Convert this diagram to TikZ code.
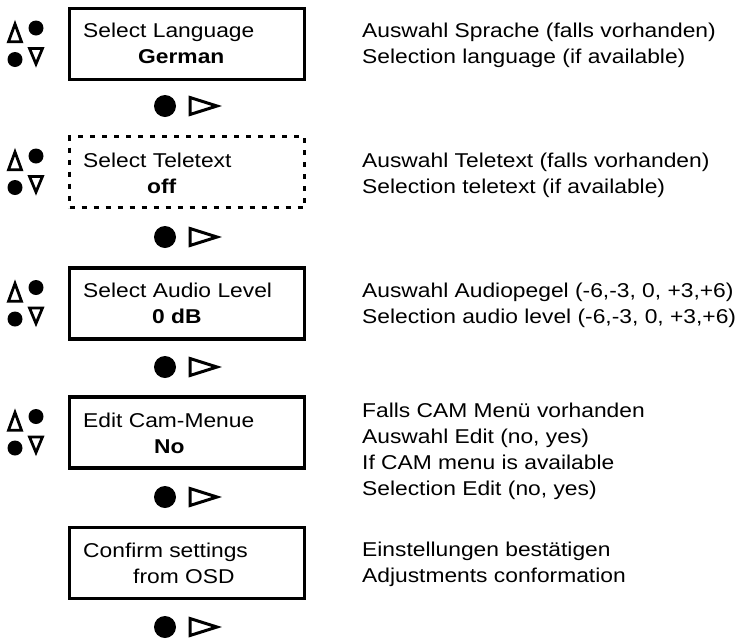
\documentclass[tikz,border=0pt]{standalone}
\usepackage{fontspec}
\setmainfont{Liberation Sans}[FakeStretch=1.14]
\begin{document}
\begin{tikzpicture}[x=1pt,y=-1pt]
\tikzset{
  menubox/.style={draw, line width=3.2pt, minimum width=235pt, minimum height=71pt, inner sep=0pt},
  dotbox/.style={menubox, dash pattern=on 5pt off 7pt},
  lbl/.style={anchor=base west, inner sep=0pt, font=\fontsize{20}{26}\selectfont},
  val/.style={lbl, font=\fontsize{20}{26}\selectfont\bfseries},
  updown/.pic={
    \fill (36,-16) circle (7.5);
    \fill (15,15.5) circle (7.5);
    \draw[line width=2.8pt, line join=miter] (15,-20) -- (21.5,-2.2) -- (8.5,-2.2) -- cycle;
    \draw[line width=2.8pt, line join=miter] (36,20) -- (29.5,4.4) -- (42.5,4.4) -- cycle;
  },
  okright/.pic={
    \fill (165,0) circle (11);
    \draw[line width=3pt, line join=miter] (190,-8.5) -- (217,0) -- (190,8.5) -- cycle;
  }
}
\useasboundingbox (0,0) rectangle (742,638);

% boxes
\node[menubox] (b1) at (187,44) {};
\node[dotbox]  (b2) at (187,172) {};
\node[menubox] (b3) at (187,303.5) {};
\node[menubox] (b4) at (187,432.5) {};
\node[menubox] (b5) at (187,563) {};

% box texts
\node[lbl] (t1a) at (83,37) {Select Language};
\node[val] (t1b) at (138,63) {German};
\node[lbl] (t2a) at (83,167) {Select Teletext};
\node[val] (t2b) at (147,193) {off};
\node[lbl] (t3a) at (83,297) {Select Audio Level};
\node[val] (t3b) at (152,323) {0 dB};
\node[lbl] (t4a) at (83,427) {Edit Cam-Menue};
\node[val] (t4b) at (154,453) {No};
\node[lbl] (t5a) at (83,557) {Confirm settings};
\node[lbl] (t5b) at (133,583) {from OSD};

% left selection symbols
\pic at (0,44) {updown};
\pic at (0,172) {updown};
\pic at (0,303.5) {updown};
\pic at (0,432.5) {updown};

% confirm symbols
\pic at (0,106) {okright};
\pic at (0,237) {okright};
\pic at (0,367) {okright};
\pic at (0,497) {okright};
\pic at (0,627) {okright};

% notes
\node[lbl] (n1a) at (362,37) {Auswahl Sprache (falls vorhanden)};
\node[lbl] (n1b) at (362,63) {Selection language (if available)};
\node[lbl] (n2a) at (362,167) {Auswahl Teletext (falls vorhanden)};
\node[lbl] (n2b) at (362,193) {Selection teletext (if available)};
\node[lbl] (n3a) at (362,297) {Auswahl Audiopegel (-6,-3, 0, +3,+6)};
\node[lbl] (n3b) at (362,323) {Selection audio level (-6,-3, 0, +3,+6)};
\node[lbl] (n4a) at (362,417) {Falls CAM Menü vorhanden};
\node[lbl] (n4b) at (362,443) {Auswahl Edit (no, yes)};
\node[lbl] (n4c) at (362,469) {If CAM menu is available};
\node[lbl] (n4d) at (362,495) {Selection Edit (no, yes)};
\node[lbl] (n5a) at (362,556) {Einstellungen bestätigen};
\node[lbl] (n5b) at (362,582) {Adjustments conformation};
\end{tikzpicture}
\end{document}
